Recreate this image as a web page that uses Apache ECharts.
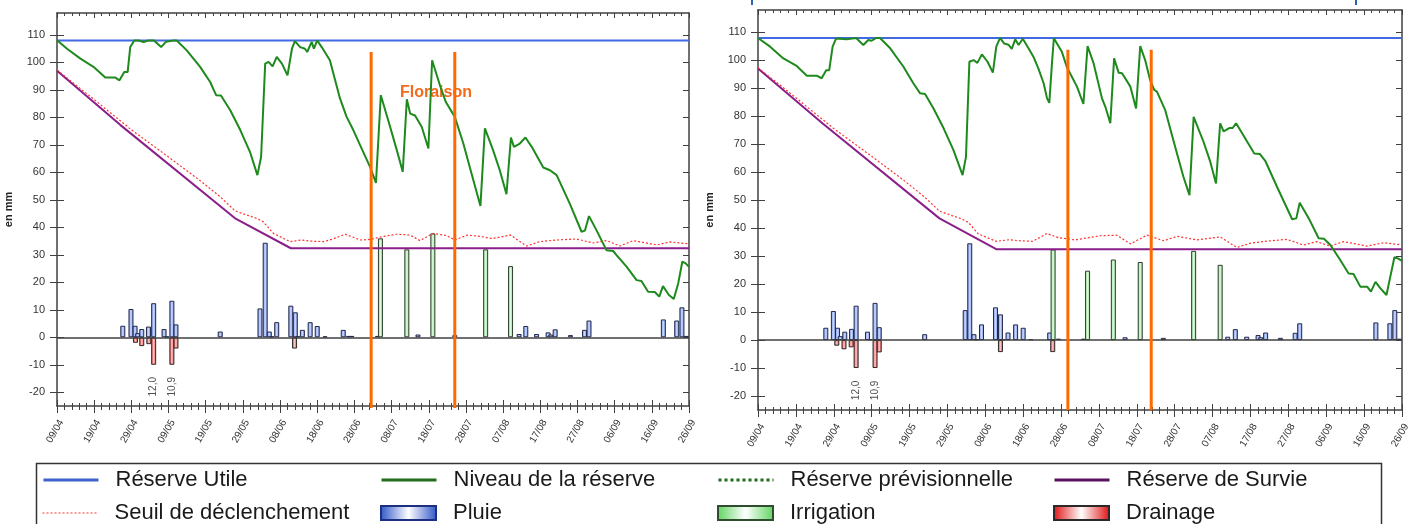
<!DOCTYPE html>
<html><head><meta charset="utf-8">
<script src="https://cdn.jsdelivr.net/npm/echarts@6/dist/echarts.min.js"></script>
<style>html,body{margin:0;padding:0;background:#fff}#c{width:1418px;height:524px}</style>
</head><body><div id="c"></div>
<script>
// ---- data (x = days since 09/04, y = mm) ----
const tickLabels = ['09/04','19/04','29/04','09/05','19/05','29/05','08/06','18/06','28/06','08/07','18/07','28/07','07/08','17/08','27/08','06/09','16/09','26/09'];
const yTicks = [-20,-10,0,10,20,30,40,50,60,70,80,90,100,110];
const reserveUtile = 108;
const seasonEnd = 170;
const drainageClip = -10;

const niveauA = [[0,108.1],[2.7,105],[6.3,101.4],[9.8,98.4],[13,94.5],[15.7,94.5],[16.8,93.5],[18.1,96.5],[19,96.5],[19.7,105.6],[20.8,108],[22,108],[23.3,107.4],[24.5,108],[26.1,108],[28,105.6],[29.3,107.5],[29.8,107],[31.3,108],[32.2,108],[34.9,104.4],[38.5,98.4],[41.2,92.9],[42.8,88.1],[44.1,88],[46.6,82.6],[49.3,75.4],[51.9,67.5],[53.9,59],[54.9,65.6],[56,99.6],[56.9,100.2],[58,98.6],[59.1,102],[60.5,99.6],[62,95.3],[63.2,105],[64,107.8],[65.4,105.6],[66.7,105],[67.3,103.8],[68.5,107.5],[69.1,105],[70,108],[71.2,105.6],[73.4,100.8],[76.1,87],[77.9,80.2],[79.7,75.4],[81.5,70],[84.2,62],[85.8,56.2],[87.1,88.1],[89.6,76.6],[91.4,68.1],[93,60.2],[94.1,86.6],[95,81.4],[96.3,80.7],[98.1,76.6],[99.9,68.7],[100.9,100.8],[103,91.7],[104.6,85.6],[107,80.2],[109.3,70.5],[111.5,59.6],[113.9,47.8],[115.1,76],[117.3,68.1],[119.1,60.8],[120.9,52.1],[122.1,72.7],[122.9,69.3],[124.5,70.5],[126,72.7],[127.7,69.3],[130.8,61.8],[132.6,60.8],[134.4,59],[137.9,48.7],[141.1,38.4],[142,38.8],[143.1,44.1],[145.1,39],[147.8,31.7],[149.6,31.4],[150.5,29.9],[153.2,25.7],[155.9,20.8],[157.2,20.5],[159,16.6],[160.8,16.5],[162,14.8],[163,18.6],[164.6,15.4],[165.9,13.9],[167.1,19.6],[168.2,27.5],[169.1,26.9],[170,25.7]];
const survieA = [[0,97],[17,77.3],[47.9,43.3],[62.9,32.4],[170,32.4]];
const seuilA = [[0,97.3],[10,86.5],[20,75.5],[30,65.6],[38.5,57],[44,51],[47.9,46],[51,44.5],[53.7,43.3],[55.5,42],[58.2,37.8],[62.7,34.8],[65.8,35.4],[68,35],[71.7,34.8],[74.3,35.8],[77.5,37.5],[79.7,36.4],[81.5,35.4],[84.2,35.6],[87.8,36.7],[91.4,37.5],[95,37.2],[97.6,35.2],[101.2,37.8],[104.8,37],[107,35.4],[110.4,37.2],[114,36.7],[117,35.9],[122,37.2],[126.3,33.2],[129.8,34.8],[134.4,35.4],[139.7,35.8],[144.2,34.3],[147.8,35.2],[151.4,33.2],[155,35.2],[161.3,33.6],[164.9,34.7],[170,34]];
const pluieA = [[17.7,4.2],[19.9,10.3],[21,4.2],[21.7,1.5],[22.8,3],[24.6,3.9],[26,12.4],[28.8,3],[29.6,0.3],[30.9,13.3],[32,4.7],[43.9,2.1],[54.6,10.5],[56,34.4],[57.1,2.1],[57.8,0.3],[59.1,5.5],[62.9,11.5],[64.1,9.1],[64.8,0.3],[66,2.7],[68.1,5.5],[70,4.1],[72.1,0.3],[77,2.7],[78.4,0.5],[79.3,0.5],[86.2,0.5],[97.1,1],[107,0.8],[124.3,1.2],[126.1,4.1],[129,1.2],[132.1,1.8],[132.8,1],[134,2.9],[138.1,0.8],[141.9,2.7],[143.1,6.1],[163.1,6.5],[166.7,6.1],[168.1,10.9],[169.3,0.5]];
const irrigationA = [[87,36],[94.1,32],[101.1,37.8],[115.3,32],[122,25.9]];
const drainageA = [[21.1,-2],[22.8,-3.2],[24.7,-2.5],[26,-12.0],[30.9,-10.9],[32,-4.1],[63.9,-4.1]];
const floraisonA = [84.5, 107];

const niveauB = [[0,108],[3.2,104.9],[6.7,100.7],[10.2,98],[12.9,94.5],[15.5,94.5],[16.8,93.6],[18,96.5],[18.8,96.5],[19.7,104.9],[20.6,107.8],[23.4,107.5],[25.9,108],[27.8,105.5],[29.1,107.3],[30,107],[31.2,108],[32.2,108],[34.9,104.3],[38.4,97.7],[41,91.8],[42.8,88.2],[44.1,88],[46.3,82.9],[49,75.7],[51.6,67.9],[54,59],[54.9,65.5],[55.8,99.5],[56.9,100.1],[57.9,99.1],[59.1,102.1],[60.6,99.5],[62,95.6],[62.9,104.9],[63.9,108],[65,106],[66.1,105.6],[67,104.1],[67.9,107.5],[68.8,105.5],[69.9,107.7],[71.4,104.3],[72.7,101.3],[74,97.1],[75.4,91.8],[76.3,86.4],[76.9,84.8],[77.6,99],[78.1,107.9],[80.2,103.1],[81.5,97.7],[82.4,95.3],[84.2,90.6],[85.9,84.4],[87,105.1],[88.6,98.9],[90.8,86.4],[91.7,83.4],[93,77.5],[94,100.7],[95.2,95.6],[96.1,95.4],[98.3,90.6],[99.8,82.8],[100.9,105.1],[102.2,100.1],[103.5,93],[104.6,89.4],[105.3,88.8],[107.5,82.2],[110.6,66.7],[112.3,58.4],[113.9,51.8],[115,79.8],[117.6,70.9],[119.4,63.7],[120.9,56],[122,77.5],[122.9,74.6],[124.4,75.8],[125.3,75.8],[126.2,77.5],[127.8,73.9],[131,66.7],[132.5,66.5],[133.9,64.1],[137,54.8],[141,43.2],[142.1,43.5],[143,49.1],[145.4,43.5],[148,36.4],[149.4,36.2],[151.1,34],[153.7,28.6],[155.9,23.8],[157.2,23.6],[159,19.1],[160.8,19.1],[161.8,17.3],[163,20.8],[164.3,18.5],[165.9,16.1],[166.9,22.6],[168,29.6],[168.9,29.2],[170,28.3]];
const survieB = [[0,97.1],[17,77.5],[47.9,43.5],[62.9,32.5],[170,32.5]];
const seuilB = [[0,97.4],[10,86.6],[20,75.6],[30,65.7],[38.5,57.1],[44,51.1],[47.9,46.1],[51,44.6],[53.7,43.4],[55.5,42.1],[58.2,37.9],[62.9,35.3],[66.4,35.9],[69,35.5],[72.5,35.3],[76.3,38.1],[79.3,36.6],[83.7,35.8],[90.3,37.3],[94.7,37.5],[98.3,34.4],[102.7,37.5],[107.1,35.5],[110.6,37.1],[115.9,35.8],[122,36.9],[126.4,33.1],[129.9,34.6],[134.5,35.4],[139.6,36],[144,34],[147.5,35.2],[151.1,33.6],[154.6,35.2],[160.8,33.6],[165.2,34.8],[170,34]];
const pluieB = [[17.9,4.4],[19.9,10.4],[21,4.4],[21.7,1.4],[22.9,3],[24.7,4],[25.9,12.3],[28.9,3],[29.6,0.3],[30.9,13.3],[32,4.6],[44,2.1],[54.7,10.7],[55.9,34.6],[57,2.1],[57.7,0.3],[59,5.6],[62.7,11.7],[64,9.2],[64.7,0.3],[66,2.7],[68,5.6],[70,4.4],[72,0.3],[77,2.7],[79.3,0.5],[85.9,0.5],[96.9,1],[107,0.8],[124,1.2],[126,3.9],[129,1.2],[132,1.8],[132.7,1],[134,2.7],[137.9,0.8],[141.8,2.6],[143,6],[163.1,6.3],[166.8,6],[168.1,10.7],[169.3,0.5]];
const irrigationB = [[77.9,32.4],[87,24.8],[93.8,28.8],[100.9,27.9],[115,31.9],[122,26.9]];
const drainageB = [[20.8,-2],[22.7,-3.3],[24.6,-2.6],[25.9,-12.0],[30.9,-10.9],[32,-4.4],[64,-4.3],[77.8,-4.3]];
const floraisonB = [81.8, 103.8];

// ---- chart ----
const FONT = '"Liberation Sans", Arial, sans-serif';
const AX = '#404040';
const chart = echarts.init(document.getElementById('c'), null, {renderer: 'canvas'});

function grad(edge, mid) {
  return {type: 'linear', x: 0, y: 0, x2: 1, y2: 0,
    colorStops: [{offset: 0, color: edge}, {offset: 0.5, color: mid}, {offset: 1, color: edge}]};
}
const grids = [
  {left: 57, right: 729, top: 13, bottom: 118},
  {left: 758, right: 16, top: 10, bottom: 114}
];
const xAxis = [], yAxis = [];
grids.forEach((g, gi) => {
  const base = {type: 'value', gridIndex: gi, min: 0, max: seasonEnd, interval: 10,
    splitLine: {show: false}, minorSplitLine: {show: false}};
  xAxis.push(Object.assign({}, base, {position: 'bottom',
    axisLine: {onZero: false, lineStyle: {color: AX, width: 1.5}},
    axisTick: {length: 7, lineStyle: {color: AX, width: 1}},
    minorTick: {show: true, splitNumber: 5, length: 4, lineStyle: {color: AX, width: 1}},
    axisLabel: {rotate: 60, fontSize: 10, color: '#333', fontFamily: FONT, margin: 12, verticalAlign: 'top',
      formatter: v => tickLabels[Math.round(v / 10)] || ''}}));
  xAxis.push(Object.assign({}, base, {position: 'bottom',
    axisLine: {show: false, onZero: false},
    axisTick: {inside: true, length: 6, lineStyle: {color: AX, width: 1}},
    minorTick: {show: true, splitNumber: 5, length: 3, lineStyle: {color: AX, width: 1}},
    axisLabel: {show: false}}));
  xAxis.push(Object.assign({}, base, {position: 'top',
    axisLine: {show: true, onZero: false, lineStyle: {color: AX, width: 1.5}},
    axisTick: {inside: true, length: 5, lineStyle: {color: AX, width: 1}},
    minorTick: {show: true, splitNumber: 5, length: 3, lineStyle: {color: AX, width: 1}},
    axisLabel: {show: false}}));
  const yb = {type: 'value', gridIndex: gi, min: -25, max: 118, splitLine: {show: false}};
  yAxis.push(Object.assign({}, yb, {position: 'left',
    axisLine: {show: true, onZero: false, lineStyle: {color: AX, width: 1.5}},
    axisTick: {show: true, customValues: yTicks, length: 7, lineStyle: {color: AX, width: 1}},
    axisLabel: {customValues: yTicks, fontSize: 11, color: '#333', fontFamily: FONT, margin: 12},
    name: 'en mm', nameLocation: 'middle', nameGap: 43, nameRotate: 90,
    nameTextStyle: {fontWeight: 'bold', fontSize: 11, color: '#222', fontFamily: FONT}}));
  yAxis.push(Object.assign({}, yb, {position: 'left',
    axisLine: {show: false, onZero: false},
    axisTick: {show: true, inside: true, customValues: yTicks, length: 7, lineStyle: {color: AX, width: 1}},
    axisLabel: {show: false}}));
  yAxis.push(Object.assign({}, yb, {position: 'right',
    axisLine: {show: true, onZero: false, lineStyle: {color: AX, width: 1.5}},
    axisTick: {show: true, inside: true, customValues: yTicks, length: 6, lineStyle: {color: AX, width: 1}},
    axisLabel: {show: false}}));
});

const panels = [
  {niveau: niveauA, survie: survieA, seuil: seuilA, pluie: pluieA, irrigation: irrigationA, drainage: drainageA, floraison: floraisonA, floraisonBottom: -25.7},
  {niveau: niveauB, survie: survieB, seuil: seuilB, pluie: pluieB, irrigation: irrigationB, drainage: drainageB, floraison: floraisonB, floraisonBottom: -25}
];
const series = [];
panels.forEach((p, i) => {
  const ax = {xAxisIndex: i * 3, yAxisIndex: i * 3};
  series.push(Object.assign({name: 'Pluie', type: 'bar', data: p.pluie, barWidth: 5, barGap: '-100%', z: 2,
    itemStyle: {color: grad('#6f8ee4', '#c9d7ff'), borderColor: '#23284a', borderWidth: 1},
    markLine: {silent: true, symbol: 'none', label: {show: false}, lineStyle: {color: AX, width: 1.5, type: 'solid'},
      data: [{yAxis: 0}]}}, ax));
  series.push(Object.assign({name: 'Irrigation', type: 'bar', data: p.irrigation, barWidth: 5, barGap: '-100%', z: 2,
    itemStyle: {color: grad('#8fdc8f', '#dcfadc'), borderColor: '#2d3d2d', borderWidth: 1}}, ax));
  series.push(Object.assign({name: 'Drainage', type: 'bar', barWidth: 5, barGap: '-100%', z: 2,
    data: p.drainage.map(d => [d[0], Math.max(d[1], drainageClip)]),
    itemStyle: {color: grad('#e84040', '#ffc4c4'), borderColor: '#2a2a2a', borderWidth: 1}}, ax));
  series.push(Object.assign({name: 'drainage-values', type: 'scatter', symbolSize: 0, silent: true, z: 5,
    data: p.drainage.filter(d => d[1] < drainageClip).map(d => [d[0], drainageClip - 8, (-d[1]).toFixed(1).replace('.', ',')]),
    label: {show: true, position: 'inside', rotate: 90, fontSize: 10, color: '#222', fontFamily: FONT,
      formatter: q => q.value[2]}}, ax));
  series.push(Object.assign({name: 'Réserve Utile', type: 'line', symbol: 'none', z: 3,
    data: [[0, reserveUtile], [seasonEnd, reserveUtile]],
    lineStyle: {color: '#4169e1', width: 2}, itemStyle: {color: '#4169e1'}}, ax));
  series.push(Object.assign({name: 'Réserve de Survie', type: 'line', symbol: 'none', z: 3, data: p.survie,
    lineStyle: {color: '#8a1f8a', width: 2}, itemStyle: {color: '#5a1060'}}, ax));
  series.push(Object.assign({name: 'Seuil de déclenchement', type: 'line', symbol: 'none', z: 3, data: p.seuil,
    lineStyle: {color: '#ff3030', width: 1.2, type: [2, 2]}, itemStyle: {color: '#c0304a'}}, ax));
  series.push(Object.assign({name: 'Réserve prévisionnelle', type: 'line', symbol: 'none', z: 3, data: [],
    lineStyle: {color: '#1b6b1b', width: 2, type: 'dotted'}, itemStyle: {color: '#1b6b1b'}}, ax));
  series.push(Object.assign({name: 'Niveau de la réserve', type: 'line', symbol: 'none', z: 4, data: p.niveau,
    lineStyle: {color: '#1e8a1e', width: 2}, itemStyle: {color: '#1e6e1e'}}, ax));
  p.floraison.forEach(d => {
    series.push(Object.assign({name: 'floraison', type: 'line', symbol: 'none', z: 6, clip: false, silent: true,
      data: [[d, 103.8], [d, p.floraisonBottom]],
      lineStyle: {color: '#ff6a00', width: 3}}, ax));
  });
});

const legendBarStyle = {
  'Pluie': {color: grad('#2f55c8', '#ffffff'), borderColor: '#1d2f80', borderWidth: 2},
  'Irrigation': {color: grad('#5fd35f', '#ffffff'), borderColor: '#2d4d2d', borderWidth: 2},
  'Drainage': {color: grad('#e01010', '#ffffff'), borderColor: '#2a2a2a', borderWidth: 2}
};
const legendLineColor = {'Réserve Utile': '#3f62c8', 'Niveau de la réserve': '#1e6e1e', 'Réserve de Survie': '#5a1060'};
const legendItems = [
  ['Réserve Utile', 42, 480, 3], ['Niveau de la réserve', 380, 480, 3], ['Réserve prévisionnelle', 717, 480, 3], ['Réserve de Survie', 1053, 480, 3],
  ['Seuil de déclenchement', 42, 513, 1], ['Pluie', 380, 513, 0], ['Irrigation', 717, 513, 0], ['Drainage', 1053, 513, 0]
];
const legend = legendItems.map(([name, x, yc, lw]) => {
  const l = {
    data: [name], left: x, top: yc - 13, padding: 0, itemWidth: 55, itemHeight: 14, selectedMode: false,
    textStyle: {fontSize: 22, color: '#1a1a1a', fontFamily: FONT, padding: [0, 0, 0, 12], lineHeight: 26}
  };
  if (lw) {
    l.lineStyle = {width: lw};
    if (legendLineColor[name]) l.lineStyle.color = legendLineColor[name];
    l.itemStyle = {opacity: 0, color: 'rgba(0,0,0,0)', borderWidth: 0};
  } else {
    l.icon = 'rect';
    l.itemStyle = legendBarStyle[name];
  }
  return l;
});

chart.setOption({
  animation: false,
  backgroundColor: '#ffffff',
  grid: grids,
  xAxis, yAxis, series, legend,
  graphic: [
    {type: 'rect', shape: {x: 36.5, y: 463.5, width: 1345, height: 80}, style: {fill: 'none', stroke: '#333', lineWidth: 1.5}, silent: true},
    {type: 'text', x: 436, y: 93, style: {text: 'Floraison', fill: '#f26a1b', font: 'bold 16px "Liberation Sans", Arial, sans-serif', align: 'center', verticalAlign: 'middle'}},
    {type: 'line', shape: {x1: 752, y1: 0, x2: 752, y2: 5}, style: {stroke: '#2a63b0', lineWidth: 2}},
    {type: 'line', shape: {x1: 1356, y1: 0, x2: 1356, y2: 5}, style: {stroke: '#2a63b0', lineWidth: 2}}
  ]
});
</script>
</body></html>
